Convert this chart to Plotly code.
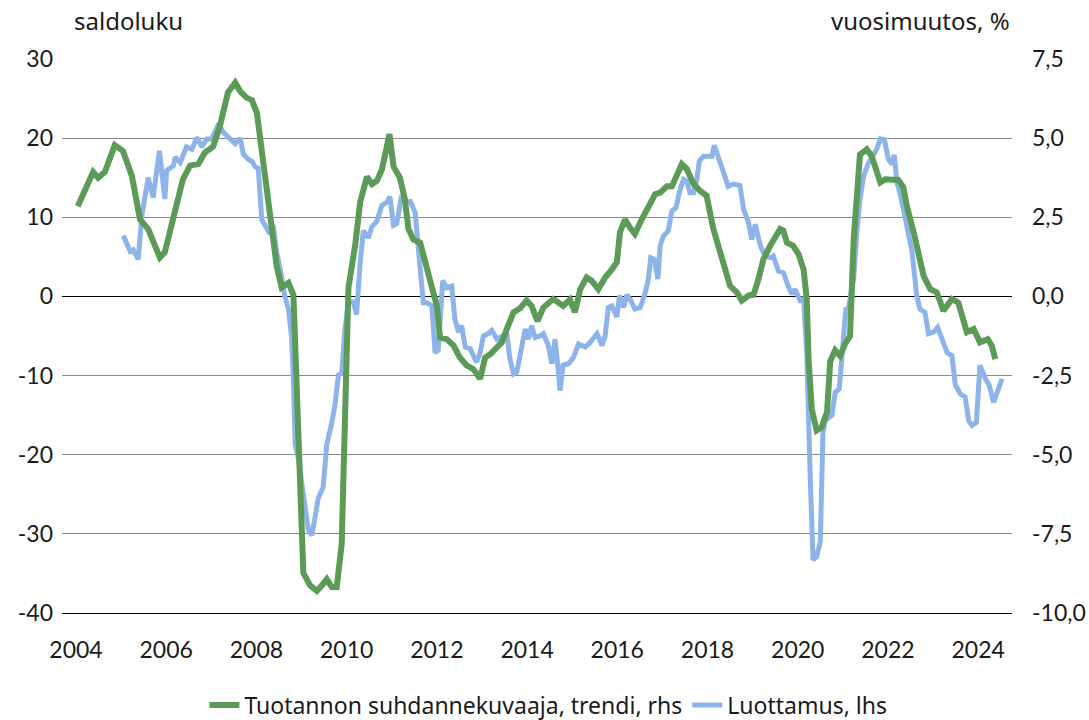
import plotly.graph_objects as go

# ---- data (decimal years) ----
green_x = [2004.04, 2004.38, 2004.49, 2004.64, 2004.86, 2005.04, 2005.24, 2005.42, 2005.60, 2005.75,
           2005.86, 2005.97, 2006.15, 2006.37, 2006.53, 2006.71, 2006.86, 2007.04, 2007.19, 2007.37,
           2007.53, 2007.64, 2007.78, 2007.90, 2008.01, 2008.15, 2008.30, 2008.45, 2008.56, 2008.71,
           2008.82, 2008.89, 2008.97, 2009.04, 2009.19, 2009.34, 2009.45, 2009.56, 2009.67, 2009.78,
           2009.89, 2009.96, 2010.04, 2010.19, 2010.30, 2010.45, 2010.56, 2010.67, 2010.78, 2010.95,
           2011.04, 2011.18, 2011.29, 2011.37, 2011.48, 2011.63, 2011.78, 2011.92, 2012.00, 2012.07,
           2012.22, 2012.37, 2012.51, 2012.66, 2012.81, 2012.96, 2013.07, 2013.18, 2013.33, 2013.44,
           2013.55, 2013.70, 2013.84, 2013.99, 2014.10, 2014.23, 2014.36, 2014.58, 2014.80, 2014.95,
           2015.06, 2015.18, 2015.32, 2015.43, 2015.58, 2015.73, 2015.88, 2015.99, 2016.06, 2016.17,
           2016.28, 2016.39, 2016.54, 2016.69, 2016.84, 2016.95, 2017.10, 2017.21, 2017.32, 2017.43,
           2017.54, 2017.69, 2017.84, 2017.98, 2018.13, 2018.35, 2018.50, 2018.65, 2018.76, 2018.91,
           2019.02, 2019.13, 2019.24, 2019.39, 2019.50, 2019.61, 2019.68, 2019.76, 2019.90, 2020.02,
           2020.13, 2020.20, 2020.24, 2020.31, 2020.42, 2020.53, 2020.65, 2020.72, 2020.83, 2020.94,
           2021.05, 2021.16, 2021.24, 2021.31, 2021.38, 2021.53, 2021.64, 2021.75, 2021.83, 2021.94,
           2022.09, 2022.23, 2022.34, 2022.42, 2022.57, 2022.71, 2022.79, 2022.94, 2023.08, 2023.23,
           2023.42, 2023.56, 2023.75, 2023.90, 2024.04, 2024.21, 2024.30, 2024.38]
green_y = [2.85, 3.93, 3.75, 3.93, 4.78, 4.60, 3.80, 2.43, 2.13, 1.58,
           1.23, 1.40, 2.43, 3.70, 4.13, 4.18, 4.55, 4.73, 5.38, 6.45,
           6.75, 6.48, 6.28, 6.20, 5.80, 4.33, 2.53, 0.95, 0.28, 0.43,
           0.05, -2.65, -5.45, -8.73, -9.13, -9.30, -9.13, -8.93, -9.18, -9.18,
           -7.83, -3.78, 0.28, 1.63, 2.98, 3.78, 3.55, 3.65, 4.00, 5.13,
           4.10, 3.75, 3.08, 2.13, 1.80, 1.70, 0.85, 0.13, -0.30, -1.30,
           -1.35, -1.55, -1.93, -2.18, -2.30, -2.60, -1.93, -1.83, -1.60, -1.45,
           -1.03, -0.50, -0.38, -0.13, -0.30, -0.78, -0.35, -0.08, -0.30, -0.10,
           -0.50, 0.23, 0.60, 0.50, 0.23, 0.60, 0.85, 1.08, 2.03, 2.43,
           2.18, 1.98, 2.43, 2.85, 3.23, 3.28, 3.48, 3.48, 3.80, 4.18,
           4.03, 3.55, 3.33, 3.18, 2.13, 1.08, 0.33, 0.13, -0.13, 0.03,
           0.05, 0.55, 1.18, 1.60, 1.90, 2.13, 2.08, 1.70, 1.60, 1.33,
           0.85, -0.08, -1.98, -3.55, -4.23, -4.13, -3.65, -2.05, -1.70, -1.88,
           -1.50, -1.25, 1.80, 3.38, 4.48, 4.65, 4.43, 3.95, 3.60, 3.70,
           3.68, 3.68, 3.45, 2.85, 2.03, 1.08, 0.65, 0.23, 0.13, -0.45,
           -0.08, -0.20, -1.13, -1.03, -1.45, -1.35, -1.55, -1.98]

blue_x = [2005.05, 2005.20, 2005.27, 2005.38, 2005.46, 2005.60, 2005.71, 2005.85, 2005.97, 2006.01,
          2006.16, 2006.20, 2006.31, 2006.45, 2006.57, 2006.68, 2006.79, 2006.90, 2007.01, 2007.16,
          2007.27, 2007.41, 2007.53, 2007.64, 2007.71, 2007.82, 2007.90, 2007.97, 2008.04, 2008.12,
          2008.23, 2008.30, 2008.37, 2008.45, 2008.56, 2008.63, 2008.71, 2008.78, 2008.82, 2008.86,
          2008.93, 2009.04, 2009.15, 2009.23, 2009.30, 2009.37, 2009.48, 2009.56, 2009.67, 2009.74,
          2009.82, 2009.89, 2009.96, 2010.04, 2010.15, 2010.22, 2010.30, 2010.37, 2010.48, 2010.56,
          2010.67, 2010.78, 2010.89, 2010.96, 2011.04, 2011.11, 2011.22, 2011.33, 2011.41, 2011.52,
          2011.59, 2011.70, 2011.78, 2011.89, 2011.96, 2012.03, 2012.13, 2012.22, 2012.33, 2012.40,
          2012.48, 2012.55, 2012.63, 2012.74, 2012.81, 2012.88, 2012.96, 2013.03, 2013.14, 2013.22,
          2013.33, 2013.40, 2013.55, 2013.62, 2013.70, 2013.77, 2013.88, 2013.96, 2014.03, 2014.10,
          2014.18, 2014.29, 2014.36, 2014.47, 2014.55, 2014.62, 2014.69, 2014.73, 2014.80, 2014.92,
          2015.03, 2015.14, 2015.29, 2015.40, 2015.55, 2015.66, 2015.73, 2015.80, 2015.88, 2015.99,
          2016.05, 2016.14, 2016.21, 2016.28, 2016.39, 2016.51, 2016.62, 2016.69, 2016.74, 2016.82,
          2016.90, 2016.95, 2017.02, 2017.13, 2017.21, 2017.30, 2017.39, 2017.47, 2017.54, 2017.61,
          2017.69, 2017.76, 2017.82, 2017.91, 2018.02, 2018.10, 2018.15, 2018.24, 2018.35, 2018.46,
          2018.57, 2018.72, 2018.80, 2018.91, 2018.98, 2019.06, 2019.17, 2019.28, 2019.39, 2019.46,
          2019.57, 2019.68, 2019.79, 2019.87, 2019.94, 2020.05, 2020.13, 2020.20, 2020.28, 2020.34,
          2020.42, 2020.50, 2020.56, 2020.61, 2020.76, 2020.83, 2020.92, 2021.01, 2021.07, 2021.12,
          2021.24, 2021.31, 2021.38, 2021.46, 2021.57, 2021.68, 2021.75, 2021.83, 2021.92, 2022.01,
          2022.09, 2022.14, 2022.20, 2022.27, 2022.34, 2022.42, 2022.53, 2022.64, 2022.71, 2022.82,
          2022.90, 2023.01, 2023.10, 2023.20, 2023.31, 2023.42, 2023.49, 2023.60, 2023.71, 2023.79,
          2023.86, 2023.96, 2024.04, 2024.16, 2024.25, 2024.34, 2024.43, 2024.53]
blue_y = [7.7, 5.7, 5.9, 4.7, 10.2, 15.0, 12.5, 18.4, 12.3, 15.9,
          16.5, 17.6, 16.9, 18.9, 18.6, 20.1, 18.9, 19.9, 19.9, 21.8,
          20.7, 19.9, 19.3, 20.0, 18.0, 17.3, 17.1, 16.4, 16.2, 9.7,
          8.6, 7.9, 9.0, 5.6, 2.5, 0.0, -1.6, -5.2, -10.6, -18.7,
          -20.5, -25.5, -29.5, -30.2, -27.7, -25.5, -24.1, -18.7, -16.0, -13.7,
          -9.9, -9.7, -4.3, -0.7, -0.7, -2.3, 4.3, 8.3, 7.4, 8.8,
          9.5, 11.5, 11.9, 12.6, 9.0, 9.2, 12.8, 11.9, 12.0, 10.6,
          6.0, -0.8, -0.8, -1.2, -7.1, -6.8, 2.0, 1.1, 1.3, -2.9,
          -4.5, -3.7, -6.4, -6.6, -7.5, -8.3, -7.1, -5.0, -4.7, -4.3,
          -5.4, -5.2, -4.7, -7.9, -9.8, -9.6, -6.2, -4.1, -5.4, -3.7,
          -5.2, -5.0, -4.7, -6.2, -8.5, -5.4, -9.2, -11.9, -8.7, -8.5,
          -7.7, -6.0, -6.4, -5.8, -4.7, -6.2, -5.0, -1.4, -1.2, -2.6,
          0.1, -1.4, 0.2, -0.3, -1.6, -1.4, 0.5, 2.2, 4.9, 4.7,
          2.2, 6.4, 7.6, 8.3, 10.8, 11.2, 13.5, 14.8, 14.6, 13.1,
          13.1, 14.6, 17.1, 17.7, 17.7, 17.7, 19.1, 17.7, 15.8, 13.9,
          14.2, 14.0, 11.0, 9.3, 7.2, 9.1, 6.4, 5.1, 4.9, 5.1,
          3.2, 3.0, 1.3, 0.3, 0.9, -0.5, -0.3, -7.1, -23.4, -33.3,
          -32.9, -31.0, -17.2, -15.7, -15.0, -12.1, -11.7, -5.4, -1.4, -1.6,
          2.2, 8.1, 12.3, 15.2, 16.9, 17.9, 18.6, 19.9, 19.8, 17.3,
          16.7, 17.9, 14.4, 13.0, 11.0, 8.3, 5.8, 0.0, -1.6, -2.0,
          -4.7, -4.5, -3.9, -5.4, -7.1, -7.5, -11.1, -12.3, -12.7, -15.7,
          -16.3, -15.9, -8.7, -10.4, -11.3, -13.4, -11.9, -10.4]

x_ticks = [2004, 2006, 2008, 2010, 2012, 2014, 2016, 2018, 2020, 2022, 2024]
x_labels = ["2004", "2006", "2008", "2010", "2012", "2014", "2016", "2018", "2020", "2022", "2024"]
left_ticks = [-40, -30, -20, -10, 0, 10, 20, 30]
left_labels = ["-40", "-30", "-20", "-10", "0", "10", "20", "30"]
right_ticks = [-10, -7.5, -5, -2.5, 0, 2.5, 5, 7.5]
right_labels = ["-10,0", "-7,5", "-5,0", "-2,5", "0,0", "2,5", "5,0", "7,5"]

green_name = "Tuotannon suhdannekuvaaja, trendi, rhs"
blue_name = "Luottamus, lhs"
left_title = "saldoluku"
right_title = "vuosimuutos, %"

GREEN = "#5B9B57"
BLUE = "#8DB4EA"
TICKFONT = dict(family="Lato, 'Open Sans', sans-serif", size=23, color="#1a1a1a")
TEXTFONT = dict(family="'Noto Sans', sans-serif", size=23, color="#1a1a1a")

fig = go.Figure()
fig.add_trace(go.Scatter(x=green_x, y=green_y, yaxis="y2", name=green_name, mode="lines",
                         line=dict(color=GREEN, width=6)))
fig.add_trace(go.Scatter(x=blue_x, y=blue_y, yaxis="y", name=blue_name, mode="lines",
                         line=dict(color=BLUE, width=5)))

fig.update_layout(
    width=1089, height=720,
    margin=dict(l=62, r=77, t=59, b=107, autoexpand=False),
    paper_bgcolor="white", plot_bgcolor="white",
    xaxis=dict(range=[2003.69, 2024.75], tickmode="array", tickvals=x_ticks, ticktext=x_labels,
               showgrid=False, zeroline=False, showline=True, linecolor="#000000", linewidth=1,
               ticks="", tickfont=TICKFONT, ticklabelstandoff=16, automargin=False),
    yaxis=dict(range=[-40, 30], tickmode="array", tickvals=left_ticks, ticktext=left_labels,
               showgrid=True, gridcolor="#8a8a8a", gridwidth=1,
               zeroline=True, zerolinecolor="#000000", zerolinewidth=1,
               showline=False, ticks="", tickfont=TICKFONT, ticklabelstandoff=8, automargin=False),
    yaxis2=dict(range=[-10, 7.5], overlaying="y", side="right", tickmode="array",
                tickvals=right_ticks, ticktext=right_labels, showgrid=False, zeroline=False,
                showline=False, ticks="", tickfont=TICKFONT, ticklabelstandoff=19, automargin=False),
    legend=dict(orientation="h", x=0.512, xanchor="center", y=-0.166, yanchor="middle",
                font=TEXTFONT, itemwidth=30, traceorder="normal"),
    showlegend=True,
    annotations=[
        dict(text=left_title, xref="paper", yref="paper", x=0.0105, y=1.07,
             xanchor="left", yanchor="middle", showarrow=False, font=dict(TEXTFONT, size=24)),
        dict(text=right_title, xref="paper", yref="paper", x=1.0, y=1.07,
             xanchor="right", yanchor="middle", showarrow=False, font=dict(TEXTFONT, size=24)),
    ],
)

fig.write_html("out.html", config={"displayModeBar": False},
               post_script="document.body.style.margin='0';")
